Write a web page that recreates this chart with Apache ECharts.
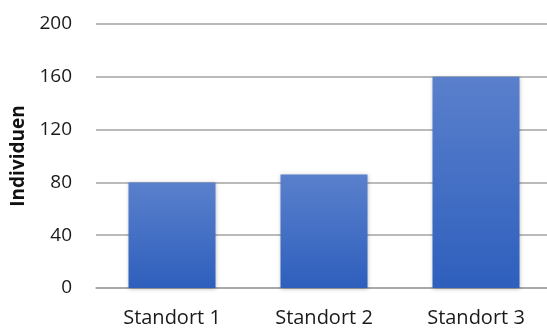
<!DOCTYPE html>
<html><head><meta charset="utf-8">
<script src="https://cdn.jsdelivr.net/npm/echarts@6/dist/echarts.min.js"></script>
<style>html,body{margin:0;padding:0;background:#fff;overflow:hidden;width:547px;height:329px}#c{width:570px;height:329px}</style>
</head><body><div id="c"></div>
<script>
const categories = ['Standort 1', 'Standort 2', 'Standort 3'];
const values = [80, 86, 160];
const yTicks = [0, 40, 80, 120, 160, 200];

const chart = echarts.init(document.getElementById('c'), null, {renderer: 'canvas'});
chart.setOption({
  animation: false,
  grid: {left: 96, top: 24, width: 456, height: 264},
  xAxis: {
    type: 'category', data: categories,
    axisLine: {show: true, lineStyle: {color: '#a3a3a3', width: 1.5}},
    axisTick: {show: false},
    axisLabel: {color: '#1a1a1a', fontFamily: 'Open Sans', fontSize: 20, margin: 20}
  },
  yAxis: {
    type: 'value', min: yTicks[0], max: yTicks[yTicks.length - 1], interval: 40,
    name: 'Individuen', nameLocation: 'middle', nameGap: 68, nameRotate: 90,
    nameTextStyle: {color: '#111', fontFamily: 'Open Sans', fontWeight: 'bold', fontSize: 19},
    axisLine: {show: false}, axisTick: {show: false},
    splitLine: {lineStyle: {color: '#a3a3a3', width: 1.5}},
    axisLabel: {color: '#1a1a1a', fontFamily: 'Open Sans', fontSize: 19, margin: 24}
  },
  series: [{
    type: 'bar', data: values, barWidth: 87,
    itemStyle: {
      color: new echarts.graphic.LinearGradient(0, 0, 0, 1, [
        {offset: 0, color: '#5a80cc'}, {offset: 1, color: '#2e5fbd'}
      ]),
      shadowColor: 'rgba(0,0,0,0.25)', shadowBlur: 4, shadowOffsetX: 0, shadowOffsetY: 1
    }
  }]
});
</script></body></html>
